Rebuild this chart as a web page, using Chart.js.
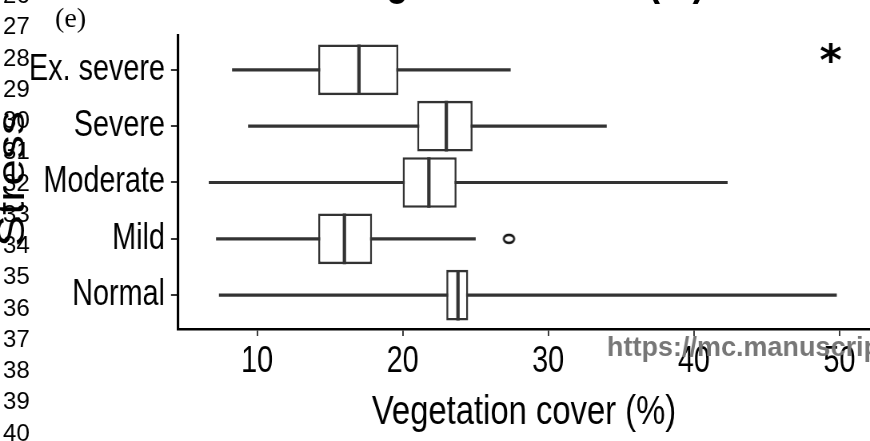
<!DOCTYPE html>
<html>
<head>
<meta charset="utf-8">
<script src="https://cdn.jsdelivr.net/npm/chart.js@4.4.1/dist/chart.umd.min.js"></script>
<style>
  html, body { margin: 0; padding: 0; background: #fff; overflow: hidden; }
</style>
</head>
<body>
<!-- the original figure uses a condensed face, so the canvas is drawn wider and squeezed -->
<canvas id="myChart" width="1088" height="441" style="width: 870px; height: 441px;"></canvas>
<script>
// categories from bottom (1) to top (5)
const categories = ["Normal", "Mild", "Moderate", "Severe", "Ex. severe"];
const whiskerLow = [7.4, 7.2, 6.7, 9.4, 8.3];
const q1 = [23.0, 14.2, 20.0, 21.0, 14.2];
const median = [23.8, 16.0, 21.8, 23.0, 17.0];
const q3 = [24.5, 17.9, 23.7, 24.8, 19.7];
const whiskerHigh = [49.8, 25.0, 42.3, 34.0, 27.4];
const outlierCategory = ["Mild"];
const outlierValue = [27.3];
const xTicks = [10, 20, 30, 40, 50];
const starValue = 49.4;
const starLevel = 5.3;
const lineNumbers = [26, 27, 28, 29, 30, 31, 32, 33, 34, 35, 36, 37, 38, 39, 40];

const FONT = "'Liberation Sans', Arial, sans-serif";
const BOXCOL = "#333333";
const SQ = 870 / 1088; // horizontal squeeze of the canvas

const pos = (name) => categories.indexOf(name) + 1;

const ctx = document.getElementById("myChart");

// open ellipse for the outlier (pre-stretched to survive the squeeze)
const ring = document.createElement("canvas");
ring.width = 20;
ring.height = 14;
const rc = ring.getContext("2d");
rc.strokeStyle = "#111111";
rc.lineWidth = 2.5;
rc.beginPath();
rc.ellipse(10, 7, 6.5, 4, 0, 0, Math.PI * 2);
rc.stroke();

const overlay = {
  id: "overlay",
  afterDraw(chart) {
    const c = chart.ctx;
    const area = chart.chartArea;
    const xs = chart.scales.x;
    const ys = chart.scales.y;
    c.save();

    // y axis title (squeezed like the other axis text)
    c.save();
    c.translate(24 / SQ, 179);
    c.rotate(-Math.PI / 2);
    c.fillStyle = "#000";
    c.font = "48px " + FONT;
    c.textAlign = "center";
    c.textBaseline = "alphabetic";
    c.fillText("Stress", 0, 0);
    c.restore();

    // cut off title
    c.fillStyle = "#000";
    c.font = "bold 46px " + FONT;
    c.textAlign = "center";
    c.textBaseline = "alphabetic";
    c.fillText("Vegetation cover (%)", (area.left + area.right) / 2, -6);

    // everything below in screen pixels, normal width
    c.scale(1 / SQ, 1);

    // manuscript line numbers
    c.font = "24px " + FONT;
    c.textAlign = "left";
    c.textBaseline = "middle";
    lineNumbers.forEach((n, i) => {
      c.fillText(String(n), 3, -3.5 + i * 31.25);
    });

    // panel tag
    c.font = "28px 'Liberation Serif', 'Times New Roman', serif";
    c.textBaseline = "alphabetic";
    c.fillText("(e)", 55, 26.5);

    // significance mark, scaled to ~20px glyph height
    c.font = "bold 100px 'DejaVu Sans', sans-serif";
    let m = c.measureText("*");
    const size = 100 * 20 / (m.actualBoundingBoxAscent + m.actualBoundingBoxDescent);
    c.font = "bold " + size.toFixed(1) + "px 'DejaVu Sans', sans-serif";
    m = c.measureText("*");
    c.textAlign = "center";
    const sx = xs.getPixelForValue(starValue) * SQ;
    const sy = ys.getPixelForValue(starLevel) + (m.actualBoundingBoxAscent - m.actualBoundingBoxDescent) / 2;
    c.fillText("*", sx, sy);

    // watermark
    c.fillStyle = "#777777";
    c.font = "bold 27px " + FONT;
    c.textAlign = "left";
    c.textBaseline = "middle";
    c.fillText("https://mc.manuscriptcentral.com/", 607, 349);

    c.restore();
  }
};

new Chart(ctx, {
  type: "bar",
  data: {
    datasets: [
      {
        label: "whisker",
        data: categories.map((cat, i) => ({ x: [whiskerLow[i], whiskerHigh[i]], y: i + 1 })),
        backgroundColor: BOXCOL,
        borderWidth: 0,
        barThickness: 2.5,
        grouped: false,
        order: 3,
      },
      {
        label: "box",
        data: categories.map((cat, i) => ({ x: [q1[i], q3[i]], y: i + 1 })),
        backgroundColor: "#ffffff",
        borderColor: BOXCOL,
        borderWidth: 2.6,
        borderSkipped: false,
        categoryPercentage: 1,
        barPercentage: 0.9,
        grouped: false,
        order: 2,
      },
      {
        type: "scatter",
        label: "median",
        data: categories.map((cat, i) => ({ x: median[i], y: i + 1 })),
        pointStyle: "line",
        rotation: 90,
        radius: 25.3,
        hoverRadius: 25.3,
        borderWidth: 4.2,
        borderColor: BOXCOL,
        order: 1,
      },
      {
        type: "scatter",
        label: "outlier",
        data: outlierValue.map((v, i) => ({ x: v, y: pos(outlierCategory[i]) })),
        pointStyle: ring,
        order: 0,
      },
    ],
  },
  options: {
    indexAxis: "y",
    responsive: false,
    devicePixelRatio: 1,
    animation: false,
    layout: { autoPadding: false, padding: { top: 36, left: 0, right: 0, bottom: 0 } },
    plugins: {
      legend: { display: false },
      tooltip: { enabled: false },
    },
    scales: {
      x: {
        type: "linear",
        position: "bottom",
        min: 4.57,
        max: 52.1,
        offset: false,
        afterBuildTicks: (scale) => {
          scale.ticks = xTicks.map((v) => ({ value: v }));
        },
        afterFit: (scale) => {
          scale.height = 112;
          scale.paddingLeft = 0;
          scale.paddingRight = 0;
        },
        ticks: {
          color: "#000",
          font: { family: FONT, size: 36 },
          padding: 4,
          maxRotation: 0,
          autoSkip: false,
        },
        grid: {
          display: true,
          offset: false,
          drawOnChartArea: false,
          drawTicks: true,
          tickLength: 7,
          color: BOXCOL,
          lineWidth: 1.9,
        },
        border: { display: true, color: "#000", width: 2.5 },
        title: {
          display: true,
          text: "Vegetation cover (%)",
          color: "#000",
          font: { family: FONT, size: 41 },
          padding: { top: 0, bottom: 4 },
        },
      },
      y: {
        type: "linear",
        position: "left",
        min: 0.4,
        max: 5.6,
        offset: false,
        afterBuildTicks: (scale) => {
          scale.ticks = categories.map((c, i) => ({ value: i + 1 }));
        },
        afterFit: (scale) => {
          scale.width = 178 / SQ;
        },
        ticks: {
          color: "#000",
          font: { family: FONT, size: 36 },
          padding: 6 / SQ,
          autoSkip: false,
          callback: (value) => categories[value - 1],
        },
        grid: {
          display: true,
          offset: false,
          drawOnChartArea: false,
          drawTicks: true,
          tickLength: 7 / SQ,
          color: BOXCOL,
          lineWidth: 2,
        },
        border: { display: true, color: "#000", width: 2.5 / SQ },
      },
    },
  },
  plugins: [overlay],
});
</script>
</body>
</html>
